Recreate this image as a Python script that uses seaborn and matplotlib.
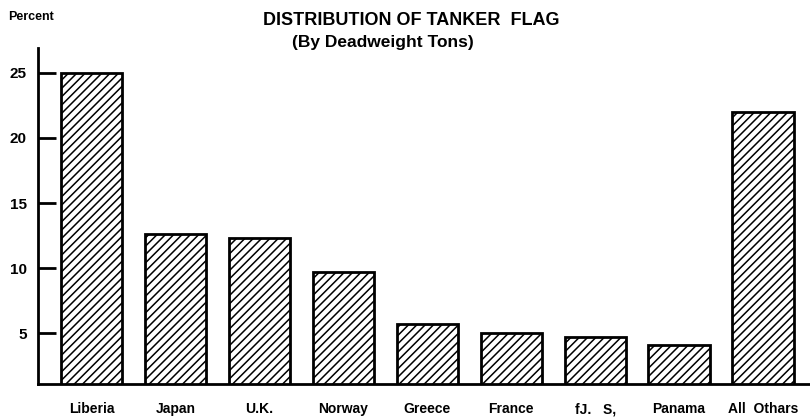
import pandas as pd
import seaborn as sns
import matplotlib.pyplot as plt

flags = ['Liberia', 'Japan', 'U.K.', 'Norway', 'Greece', 'France', 'fJ.   S,', 'Panama', 'All  Othars']
percent = [25.0, 12.6, 12.3, 9.7, 5.7, 5.0, 4.7, 4.1, 22.0]
yticks = [5, 10, 15, 20, 25]

df = pd.DataFrame({'flag': flags, 'percent': percent})

sns.set_style('white')
plt.rcParams['font.family'] = ['Liberation Sans', 'DejaVu Sans']
plt.rcParams['text.color'] = 'black'
plt.rcParams['axes.edgecolor'] = 'black'
plt.rcParams['xtick.color'] = 'black'
plt.rcParams['ytick.color'] = 'black'
plt.rcParams['hatch.linewidth'] = 1.1

fig = plt.figure(figsize=(8.1, 4.19), dpi=100)
ax = fig.add_axes([0.047, 0.0835, 0.953, 0.8015])

sns.barplot(data=df, x='flag', y='percent', color='white', edgecolor='black',
            linewidth=2, width=0.73, ax=ax)
for bar in ax.patches:
    bar.set_hatch('////')

ax.set_xlim(-0.64, 8.56)
ax.set_ylim(1.1, 26.9)
ax.set_yticks(yticks)
ax.set_yticklabels([str(t) for t in yticks], fontsize=11, fontweight='bold')
ax.tick_params(axis='y', direction='in', length=13, width=2, pad=8, left=True)
ax.tick_params(axis='x', length=0, pad=13)
for lab in ax.get_xticklabels():
    lab.set_fontsize(10)
    lab.set_fontweight('bold')
ax.set_xlabel('')
ax.set_ylabel('')

sns.despine(ax=ax)
ax.spines['left'].set_linewidth(2)
ax.spines['bottom'].set_linewidth(2)

fig.text(0.01, 0.96, 'Percent', fontsize=9, fontweight='bold', va='center')
fig.text(0.508, 0.95, 'DISTRIBUTION OF TANKER  FLAG', fontsize=13, fontweight='bold',
         ha='center', va='center', family=['Liberation Sans Narrow', 'Liberation Sans'])
fig.text(0.473, 0.898, '(By Deadweight Tons)', fontsize=12.5, fontweight='bold',
         ha='center', va='center', family=['Liberation Sans Narrow', 'Liberation Sans'])

fig.savefig('out.png', dpi=100)
